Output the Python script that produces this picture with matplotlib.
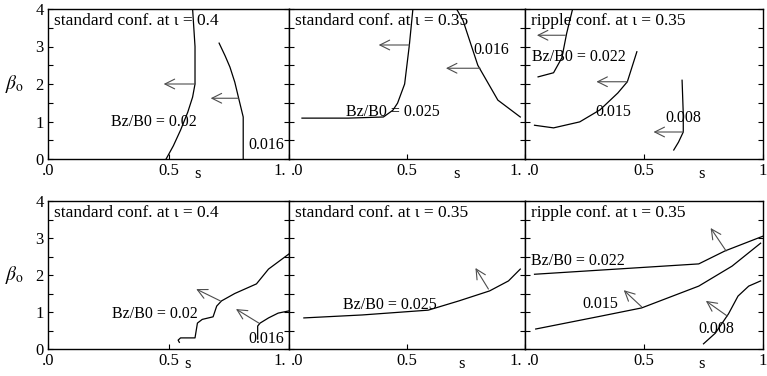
import numpy as np
import matplotlib.pyplot as plt

plt.rcParams['font.family'] = ['Liberation Serif', 'DejaVu Serif']
plt.rcParams['mathtext.fontset'] = 'stix'

# --- beta_0 limits vs s, top row (radial) ---
# standard conf. at iota = 0.4
a_002_s = [0.49, 0.52, 0.55, 0.58, 0.60, 0.61, 0.61, 0.60]
a_002_b = [0.0, 0.35, 0.77, 1.25, 1.65, 2.0, 3.0, 4.0]
a_016_s = [0.71, 0.735, 0.755, 0.775, 0.79, 0.81, 0.81]
a_016_b = [3.09, 2.75, 2.45, 2.05, 1.65, 1.12, 0.0]

# standard conf. at iota = 0.35
b_025_s = [0.055, 0.25, 0.40, 0.44, 0.46, 0.49, 0.51, 0.525]
b_025_b = [1.09, 1.09, 1.12, 1.3, 1.49, 2.0, 3.04, 4.0]
b_016_s = [0.71, 0.737, 0.80, 0.885, 0.98]
b_016_b = [4.0, 3.7, 2.5, 1.57, 1.12]

# ripple conf. at iota = 0.35
c_022_s = [0.055, 0.12, 0.155, 0.175, 0.20]
c_022_b = [2.19, 2.3, 2.7, 3.35, 4.0]
c_015_s = [0.04, 0.12, 0.23, 0.315, 0.39, 0.43, 0.45, 0.47]
c_015_b = [0.9, 0.83, 0.99, 1.31, 1.76, 2.06, 2.46, 2.86]
c_008_s = [0.66, 0.665, 0.665, 0.645, 0.625]
c_008_b = [2.1, 1.2, 0.72, 0.45, 0.24]

# --- bottom row ---
d_002_s = [0.545, 0.54, 0.55, 0.56, 0.61, 0.62, 0.64, 0.685, 0.70, 0.72, 0.775, 0.865, 0.915, 1.0]
d_002_b = [0.18, 0.24, 0.3, 0.3, 0.3, 0.7, 0.8, 0.87, 1.16, 1.3, 1.5, 1.76, 2.16, 2.57]
d_016_s = [0.87, 0.87, 0.88, 0.915, 0.955, 1.0]
d_016_b = [0.27, 0.62, 0.7, 0.84, 0.97, 1.03]

e_025_s = [0.063, 0.31, 0.59, 0.72, 0.85, 0.93, 0.98]
e_025_b = [0.84, 0.92, 1.05, 1.3, 1.57, 1.84, 2.16]

f_022_s = [0.04, 0.73, 0.84, 1.0]
f_022_b = [2.02, 2.3, 2.65, 3.05]
f_015_s = [0.045, 0.155, 0.32, 0.49, 0.73, 0.87, 0.99]
f_015_b = [0.54, 0.68, 0.89, 1.11, 1.7, 2.24, 2.86]
f_008_s = [0.75, 0.80, 0.855, 0.895, 0.94, 0.99]
f_008_b = [0.14, 0.43, 0.95, 1.43, 1.7, 1.84]

# arrows: (s_from, b_from, s_to, b_to)
a_arrows = [(0.61, 2.0, 0.48, 2.0), (0.79, 1.62, 0.675, 1.62)]
b_arrows = [(0.51, 3.04, 0.38, 3.04), (0.81, 2.42, 0.665, 2.42)]
c_arrows = [(0.17, 3.3, 0.05, 3.3), (0.43, 2.06, 0.30, 2.06), (0.665, 0.72, 0.54, 0.72)]
d_arrows = [(0.715, 1.3, 0.615, 1.62), (0.875, 0.70, 0.78, 1.08)]
e_arrows = [(0.845, 1.62, 0.79, 2.19)]
f_arrows = [(0.845, 2.65, 0.78, 3.27), (0.49, 1.14, 0.415, 1.59), (0.85, 0.89, 0.76, 1.3)]

# curve labels: (s, b, text)
a_labels = [(0.26, 1.0, 'Bz/B0 = 0.02'), (0.83, 0.37, '0.016')]
b_labels = [(0.24, 1.25, 'Bz/B0 = 0.025'), (0.78, 2.9, '0.016')]
c_labels = [(0.03, 2.72, 'Bz/B0 = 0.022'), (0.295, 1.25, '0.015'), (0.59, 1.09, '0.008')]
d_labels = [(0.265, 0.95, 'Bz/B0 = 0.02'), (0.83, 0.27, '0.016')]
e_labels = [(0.23, 1.2, 'Bz/B0 = 0.025')]
f_labels = [(0.025, 2.38, 'Bz/B0 = 0.022'), (0.24, 1.22, '0.015'), (0.73, 0.54, '0.008')]

titles = ['standard conf. at ι = 0.4', 'standard conf. at ι = 0.35', 'ripple conf. at ι = 0.35']

panels = [
    [(a_002_s, a_002_b), (a_016_s, a_016_b)],
    [(b_025_s, b_025_b), (b_016_s, b_016_b)],
    [(c_022_s, c_022_b), (c_015_s, c_015_b), (c_008_s, c_008_b)],
    [(d_002_s, d_002_b), (d_016_s, d_016_b)],
    [(e_025_s, e_025_b)],
    [(f_022_s, f_022_b), (f_015_s, f_015_b), (f_008_s, f_008_b)],
]
arrows = [a_arrows, b_arrows, c_arrows, d_arrows, e_arrows, f_arrows]
labels = [a_labels, b_labels, c_labels, d_labels, e_labels, f_labels]
s_label_x = [0.62, 0.71, 0.74, 0.58, 0.73, 0.74]

W, H = 767.0, 376.0
col_edges = [48, 289, 525, 763]
row_spans = [(9, 159), (201, 349)]

fig = plt.figure(figsize=(7.67, 3.76), dpi=100)

for i in range(6):
    row, col = divmod(i, 3)
    x0, x1 = col_edges[col], col_edges[col + 1]
    y0, y1 = row_spans[row]
    ax = fig.add_axes([x0 / W, 1 - y1 / H, (x1 - x0) / W, (y1 - y0) / H])
    ax.set_xlim(0, 1)
    ax.set_ylim(0, 4)

    for s, b in panels[i]:
        ax.plot(s, b, color='black', lw=0.9)
    for s0, b0, s1, b1 in arrows[i]:
        ax.annotate('', xy=(s1, b1), xytext=(s0, b0),
                    arrowprops=dict(arrowstyle='->,head_length=0.7,head_width=0.35',
                                    lw=0.8, color='0.3', shrinkA=0, shrinkB=0))
    for s, b, txt in labels[i]:
        ax.text(s, b, txt, fontsize=11.5, va='center', ha='left')

    ax.text(0.025, 0.975, titles[col], transform=ax.transAxes,
            fontsize=12.5, va='top', ha='left')

    # x tick labels drawn by hand: panels share edges, so "1." and ".0" are nudged apart
    ax.set_xticks([0, 0.5, 1])
    ax.set_xticklabels([])
    xform = ax.get_xaxis_transform()
    lab_kw = dict(xycoords=xform, textcoords='offset points', va='top', fontsize=12)
    if col == 0:
        ax.annotate('.0', xy=(0, 0), xytext=(0, -3), ha='center', **lab_kw)
    else:
        ax.annotate('.0', xy=(0, 0), xytext=(1, -3), ha='left', **lab_kw)
    ax.annotate('0.5', xy=(0.5, 0), xytext=(0, -3), ha='center', **lab_kw)
    if col == 2:
        ax.annotate('1', xy=(1, 0), xytext=(0, -3), ha='center', **lab_kw)
    else:
        ax.annotate('1.', xy=(1, 0), xytext=(-2, -3), ha='right', **lab_kw)

    ax.set_yticks(np.arange(0, 4.01, 0.5))
    if col == 0:
        ax.set_yticklabels(['0', '', '1', '', '2', '', '3', '', '4'])
        ax.text(-0.14, 0.5, r'$\beta_{\rm o}$', transform=ax.transAxes,
                fontsize=14, va='center', ha='center')
    else:
        ax.set_yticklabels([])
    ax.tick_params(direction='in', length=3.5, width=0.8, labelsize=12,
                   right=True, top=False, pad=3)
    ax.text(s_label_x[i], -0.1, 's', transform=ax.transAxes,
            fontsize=12, ha='center', va='center')
    for sp in ax.spines.values():
        sp.set_linewidth(1.0)

fig.savefig('out.png', dpi=100)
